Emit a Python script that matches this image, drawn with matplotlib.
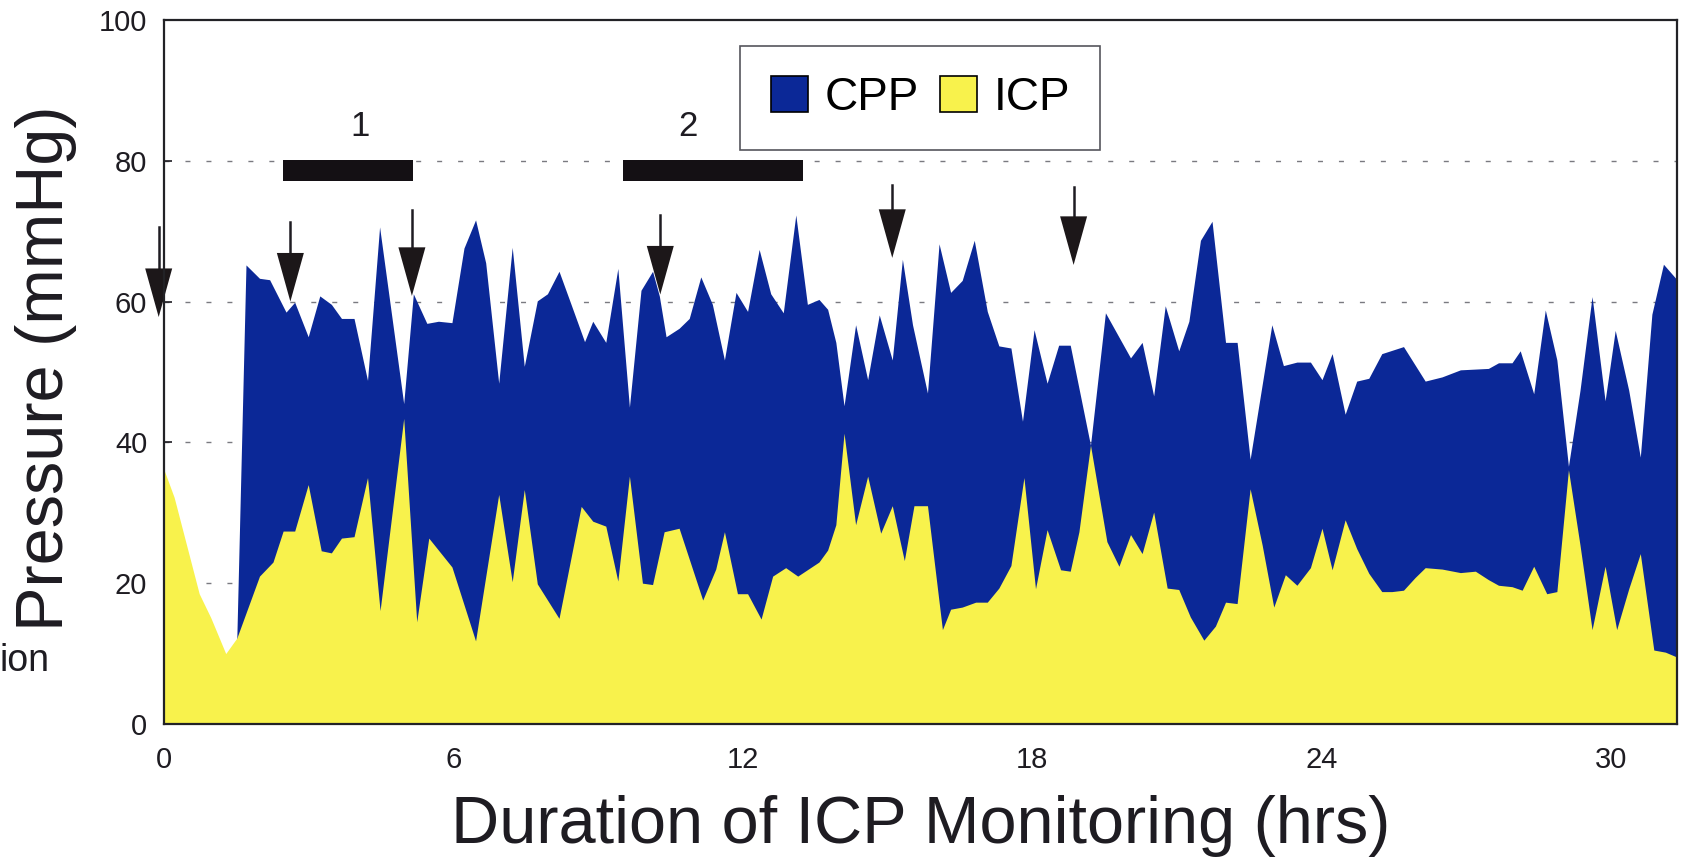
import matplotlib
matplotlib.use("Agg")
import matplotlib.pyplot as plt
from matplotlib.patches import Patch

plt.rcParams['font.family'] = ['Liberation Sans', 'DejaVu Sans']

# ICP (yellow) trace, hrs vs mmHg
icp_hrs = [0, 0.21, 0.73, 0.97, 1.28, 1.51, 1.98, 2.26, 2.47, 2.71, 2.99, 3.26, 3.47, 3.68,
           3.94, 4.22, 4.48, 4.97, 5.24, 5.49, 5.97, 6.46, 6.94, 7.22, 7.47, 7.74, 8.19, 8.65,
           8.89, 9.16, 9.41, 9.65, 9.92, 10.13, 10.37, 10.68, 11.17, 11.44, 11.62, 11.89, 12.10,
           12.38, 12.62, 12.89, 13.14, 13.58, 13.76, 13.93, 14.10, 14.34, 14.59, 14.86, 15.10,
           15.35, 15.55, 15.83, 16.14, 16.31, 16.55, 16.83, 17.07, 17.31, 17.56, 17.83, 18.07,
           18.31, 18.59, 18.79, 18.97, 19.21, 19.55, 19.80, 20.04, 20.28, 20.52, 20.80, 21.04,
           21.28, 21.56, 21.80, 22.01, 22.25, 22.52, 22.77, 23.01, 23.25, 23.49, 23.77, 24.01,
           24.22, 24.49, 24.73, 24.98, 25.25, 25.46, 25.70, 25.94, 26.15, 26.50, 26.88, 27.19,
           27.46, 27.67, 27.95, 28.16, 28.40, 28.67, 28.88, 29.12, 29.36, 29.61, 29.88, 30.12,
           30.37, 30.61, 30.89, 31.13, 31.37]
icp = [36.1, 32.2, 18.5, 15.1, 10.0, 12.2, 21.0, 23.0, 27.4, 27.4, 34.0, 24.6, 24.3, 26.4,
       26.6, 35.0, 16.1, 43.4, 14.5, 26.4, 22.3, 11.8, 32.6, 20.2, 33.3, 19.9, 15.0, 30.9,
       28.8, 28.1, 20.3, 35.2, 20.0, 19.8, 27.3, 27.8, 17.6, 22.0, 27.3, 18.5, 18.5,
       14.9, 21.0, 22.2, 21.0, 23.0, 24.7, 28.3, 41.3, 28.3, 35.2, 27.1, 31.0,
       23.2, 31.0, 31.0, 13.4, 16.3, 16.6, 17.3, 17.3, 19.3, 22.5, 35.0, 19.2,
       27.6, 21.9, 21.7, 27.3, 39.6, 25.9, 22.4, 26.9, 24.2, 30.1, 19.3, 19.1,
       15.2, 11.9, 13.9, 17.3, 17.1, 33.4, 25.4, 16.6, 21.2, 19.7, 22.2, 27.8,
       21.9, 29.0, 24.9, 21.4, 18.8, 18.8, 19.0, 20.8, 22.2, 22.0, 21.5, 21.7,
       20.5, 19.7, 19.5, 19.0, 22.4, 18.5, 18.8, 36.1, 25.4, 13.4, 22.4, 13.4,
       19.2, 24.2, 10.5, 10.2, 9.5]

# upper edge of the CPP (blue) band = ICP + CPP
cpp_top_hrs = [1.51, 1.70, 1.98, 2.19, 2.53, 2.71, 2.99, 3.23, 3.47, 3.68, 3.94, 4.22, 4.47,
               4.97, 5.17, 5.45, 5.69, 5.97, 6.22, 6.46, 6.67, 6.94, 7.22, 7.47, 7.74, 7.95,
               8.19, 8.44, 8.72, 8.89, 9.16, 9.41, 9.65, 9.89, 10.13, 10.27, 10.41, 10.68,
               10.89, 11.13, 11.37, 11.62, 11.86, 12.10, 12.34, 12.58, 12.84, 13.10, 13.34,
               13.58, 13.76, 13.93, 14.10, 14.34, 14.59, 14.83, 15.10, 15.31, 15.52, 15.83,
               16.07, 16.31, 16.55, 16.80, 17.07, 17.31, 17.56, 17.80, 18.04, 18.31, 18.55,
               18.79, 19.21, 19.52, 20.04, 20.28, 20.52, 20.76, 21.04, 21.25, 21.49, 21.73,
               22.01, 22.25, 22.52, 22.97, 23.21, 23.49, 23.77, 24.01, 24.22, 24.49, 24.73,
               24.98, 25.25, 25.70, 26.15, 26.50, 26.88, 27.46, 27.67, 27.95, 28.12, 28.40,
               28.64, 28.88, 29.12, 29.36, 29.61, 29.88, 30.09, 30.37, 30.61, 30.85, 31.09,
               31.37]
cpp_top = [12.2, 65.2, 63.3, 63.1, 58.5, 59.9, 55.0, 60.8, 59.6, 57.6, 57.6, 48.8, 70.6,
           45.5, 61.1, 56.9, 57.2, 57.0, 67.6, 71.6, 65.5, 48.4, 67.7, 50.8, 60.1, 61.1,
           64.3, 59.6, 54.3, 57.2, 54.2, 64.7, 45.0, 61.6, 64.3, 60.8, 55.0, 56.2,
           57.6, 63.5, 59.6, 51.7, 61.3, 58.6, 67.4, 61.1, 58.4, 72.3, 59.6,
           60.3, 58.9, 54.2, 45.2, 56.7, 48.9, 58.1, 51.7, 66.0, 56.7, 47.0,
           68.2, 61.3, 63.0, 68.7, 58.6, 53.7, 53.4, 43.0, 56.0, 48.4, 53.8,
           53.8, 39.6, 58.4, 52.0, 54.2, 46.6, 59.4, 53.0, 57.2, 68.7, 71.4,
           54.2, 54.2, 37.6, 56.7, 50.9, 51.4, 51.4, 48.9, 52.6, 44.0, 48.7,
           49.1, 52.6, 53.6, 48.7, 49.3, 50.3, 50.5, 51.3, 51.3, 53.0, 46.9,
           58.8, 51.7, 36.6, 47.4, 60.7, 45.9, 55.9, 47.4, 37.9, 58.2, 65.3,
           63.1]

# treatment periods (black bars) and event arrows
period_start = [2.47, 9.52]
period_end = [5.16, 13.24]
period_label = ['1', '2']
period_label_hrs = [4.06, 10.86]
arrow_hrs = [-0.11, 2.62, 5.14, 10.29, 15.10, 18.86]
arrow_tip = [57.8, 60.0, 60.8, 61.0, 66.2, 65.2]
arrow_top = [70.6, 71.3, 73.0, 72.3, 76.5, 76.2]

x_ticks = [0, 6, 12, 18, 24, 30]
y_ticks = [0, 20, 40, 60, 80, 100]

blue = '#0b2897'
yellow = '#f8f24c'
ink = '#1e1c22'

fig = plt.figure(figsize=(16.82, 8.59), dpi=100)
ax = fig.add_axes([0.0975, 0.1572, 0.8995, 0.8196])

ax.fill_between(cpp_top_hrs, cpp_top, 0, color=blue, lw=0, zorder=2)
ax.fill_between(icp_hrs, icp, 0, color=yellow, lw=0, zorder=3)

for g in y_ticks[1:-1]:
    ax.axhline(g, color='#7a7a80', lw=1.0, dashes=(3.6, 11.5), zorder=1)

ax.barh([78.6] * len(period_start),
        [e - s for s, e in zip(period_start, period_end)],
        left=period_start, height=2.9, color='#141014', zorder=4)
for lab, xh in zip(period_label, period_label_hrs):
    ax.text(xh, 84.8, lab, fontsize=25, ha='center', va='center', color=ink)

for xh, tip, top in zip(arrow_hrs, arrow_tip, arrow_top):
    ax.plot([xh, xh], [tip + 6, top], color=ink, lw=1.8, clip_on=False, zorder=5)
    ax.fill([xh - 0.28, xh + 0.28, xh], [tip + 6.9, tip + 6.9, tip],
            color='#1c1719', lw=0, clip_on=False, zorder=5)

ax.set_xlim(0, 31.37)
ax.set_ylim(0, 100)
ax.set_xticks(x_ticks)
ax.set_yticks(y_ticks)
ax.tick_params(axis='y', direction='in', length=6, width=1.2, pad=12,
               labelsize=21, colors=ink)
ax.tick_params(axis='x', length=0, pad=16, labelsize=21, colors=ink)
for sp in ax.spines.values():
    sp.set_color('#222226')
    sp.set_linewidth(1.6)
    sp.set_zorder(6)

ax.set_xlabel('Duration of ICP Monitoring (hrs)', fontsize=48, color=ink, labelpad=15)
fig.text(46 / 1682, 1 - 368 / 859, 'Pressure (mmHg)', rotation=90, fontsize=48,
         ha='center', va='center', color=ink)
fig.text(0.0, 1 - 671 / 859, 'ion', fontsize=27, ha='left', va='baseline', color=ink)

handles = [Patch(facecolor=blue, edgecolor='black', lw=1.2, label='CPP'),
           Patch(facecolor=yellow, edgecolor='black', lw=1.2, label='ICP')]
leg = ax.legend(handles=handles, ncol=2, loc='upper left', bbox_to_anchor=(0.381, 0.963),
                fontsize=33, frameon=True, fancybox=False, framealpha=1,
                edgecolor='#55555c', handlelength=0.82, handleheight=0.84,
                handletextpad=0.36, columnspacing=0.45, borderpad=0.66,
                borderaxespad=0)
leg.get_frame().set_linewidth(1.2)
leg.set_zorder(7)

fig.savefig('out.png', dpi=100)
